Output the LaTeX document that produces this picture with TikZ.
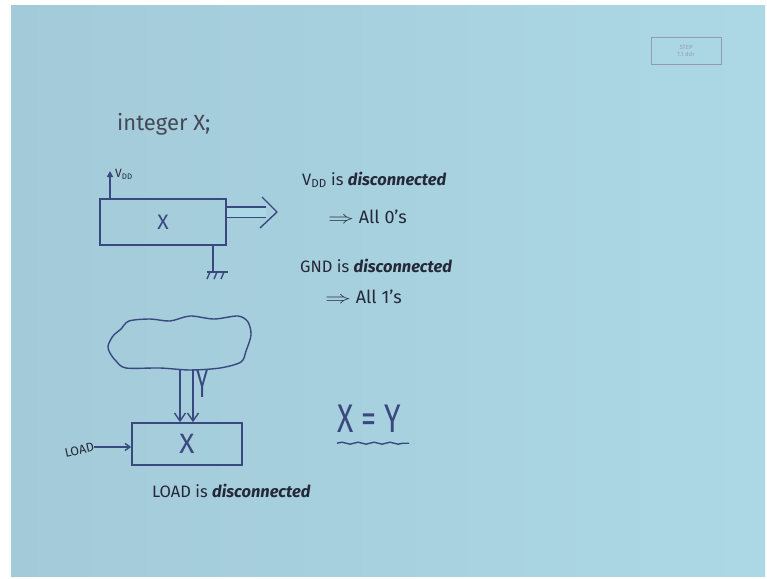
\documentclass[tikz,border=0pt]{standalone}
\usepackage{fontspec}
\setmainfont{Fira Sans}
\usetikzlibrary{arrows.meta,decorations.pathmorphing,positioning}
\definecolor{board}{RGB}{172,216,229}
\definecolor{boardl}{RGB}{163,202,217}
\definecolor{pen}{RGB}{58,72,128}
\definecolor{ink}{RGB}{36,40,56}
\begin{document}
\begin{tikzpicture}[x=1pt, y=-1pt, every node/.style={text=ink, inner sep=0pt},
  reg/.style={draw=pen, line width=1.6pt, text=pen},
  wire/.style={draw=pen, line width=1.4pt},
  note/.style={font=\fontsize{16.5}{18}\selectfont, anchor=base west}]
% board
\fill[white] (0,0) rectangle (767,578);
\shade[left color=boardl, right color=board] (11,6) rectangle (765,576);
\useasboundingbox (0,0) rectangle (767,578);
\node[draw=pen!55, line width=1pt, minimum width=70, minimum height=27, align=center, text=pen!55, font=\fontsize{6}{7}\selectfont] (tag) at (686,51) {STEP\\1.1 ddr};
\node[font=\fontsize{22}{24}\selectfont, anchor=base west, text=ink!85] (decl) at (117,130) {integer X;};
% register with supply
\node[reg, minimum width=126, minimum height=46, font=\fontsize{21}{23}\selectfont] (regx) at (163,222) {X};
\coordinate (vdd) at (110,171);
\coordinate (gnd) at (213,272);
\coordinate (busend) at (266,212);
\draw[wire, -{Triangle[length=6pt,width=6pt]}] (regx.north -| vdd) -- (vdd);
\node[font=\fontsize{12}{13}\selectfont, anchor=west] (vddlbl) at (115,174) {V\textsubscript{DD}};
\draw[wire] (regx.south -| gnd) -- (gnd);
\draw[wire] (gnd) ++(-6,0) -- ++(21,0);
\foreach \dx in {-3,4,11} \draw[wire] (gnd) ++(\dx,0) -- ++(-3,7);
\draw[wire, double=board, double distance=9pt] (regx.east |- busend) -- (busend);
\draw[wire, line join=round] (busend) ++(-4,-15) -- ++(15,15) -- ++(-17,16);
\node[note] (vddoff) at (302,185) {V\textsubscript{DD} is \textbf{\textit{disconnected}}};
\node[note, font=\fontsize{18}{20}\selectfont] (zeros) at (328,223) {\scalebox{1.5}[1]{$\Rightarrow$} All 0's};
\node[note] (gndoff) at (300,272) {GND is \textbf{\textit{disconnected}}};
\node[note, font=\fontsize{18}{20}\selectfont] (ones) at (325,303) {\scalebox{1.5}[1]{$\Rightarrow$} All 1's};
% memory blob
\draw[wire] plot[smooth cycle, tension=0.5] coordinates {(108,346) (113,336) (121,329) (129,321) (150,319) (170,321) (190,316) (214,319) (238,316) (248,322) (251,335) (246,351) (241,362) (220,368) (190,370) (160,368) (126,368) (116,361) (110,353)};
\node[minimum width=140, minimum height=52] (cloud) at (180,343) {};
\coordinate (ya) at (180,0);
\coordinate (yb) at (193,0);
\node[reg, minimum width=110, minimum height=42, font=\fontsize{28}{30}\selectfont] (regy) at (187,444) {X};
\draw[wire, -{Straight Barb[length=8pt,width=11pt]}] (cloud.south -| ya) -- (regy.north -| ya);
\draw[wire, -{Straight Barb[length=8pt,width=11pt]}] (cloud.south -| yb) -- (regy.north -| yb);
\node[font=\fontsize{40}{42}\selectfont, anchor=north west, text=pen] (ylbl) at (196,370) {\scalebox{0.55}[1]{Y}};
\node[font=\fontsize{12.5}{14}\selectfont, anchor=east, rotate=12] (load) at (94,447) {LOAD};
\draw[wire, -{Straight Barb[length=5pt,width=7pt]}] (load.east) -- (regy.west |- load.east);
\node[note] (loadoff) at (152,497) {LOAD is \textbf{\textit{disconnected}}};
% equality
\node[font=\fontsize{40}{42}\selectfont, anchor=base west, text=pen] (eq) at (337,432) {\scalebox{0.75}[1]{X = Y}};
\draw[wire, decorate, decoration={snake, amplitude=1pt, segment length=16pt}] ([yshift=-11pt]eq.south west) -- ([yshift=-11pt, xshift=8pt]eq.south east);
\end{tikzpicture}
\end{document}
